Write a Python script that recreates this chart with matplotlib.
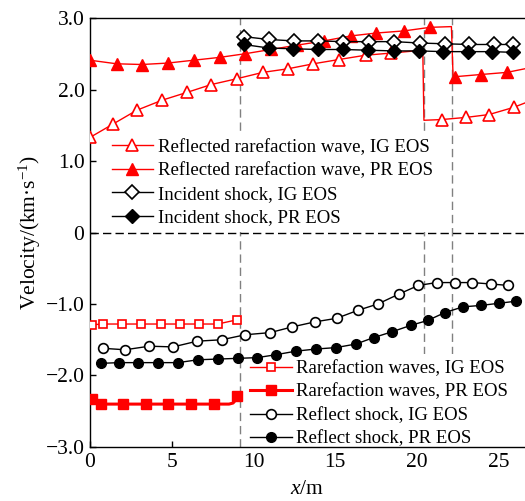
import numpy as np
import matplotlib
matplotlib.use("Agg")
import matplotlib.pyplot as plt

plt.rcParams['font.family'] = ['Liberation Serif', 'DejaVu Serif']
plt.rcParams['mathtext.fontset'] = 'custom'
plt.rcParams['mathtext.rm'] = 'Liberation Serif'
plt.rcParams['mathtext.it'] = 'Liberation Serif:italic'

# reflected rarefaction wave (upper, red triangles)
rr_ig_x = [0, 1.43, 2.86, 4.4, 5.93, 7.42, 8.96, 10.57, 12.1, 13.66, 15.23, 16.85, 18.42,
           20.35, 20.42, 21.5, 23.0, 24.4, 25.9, 26.8]
rr_ig_y = [1.33, 1.52, 1.71, 1.85, 1.96, 2.07, 2.15, 2.24, 2.29, 2.36, 2.42, 2.48, 2.51,
           2.55, 1.57, 1.58, 1.61, 1.65, 1.75, 1.83]
rr_ig_mk = [0, 1, 2, 3, 4, 5, 6, 7, 8, 9, 10, 11, 12, 15, 16, 17, 18]

rr_pr_x = [0, 1.63, 3.17, 4.75, 6.34, 7.94, 9.47, 11.05, 12.65, 14.3, 15.95, 17.5, 19.2, 20.8,
           22.1, 22.2, 22.35, 23.9, 25.5, 26.8]
rr_pr_y = [2.41, 2.36, 2.35, 2.37, 2.41, 2.45, 2.50, 2.56, 2.62, 2.68, 2.75, 2.79, 2.82, 2.87,
           2.88, 2.20, 2.18, 2.21, 2.24, 2.30]
rr_pr_mk = [0, 1, 2, 3, 4, 5, 6, 7, 8, 9, 10, 11, 12, 13, 16, 17, 18]

# incident shock (diamonds)
is_ig_x = [9.4, 10.92, 12.46, 13.95, 15.5, 17.06, 18.6, 20.2, 21.7, 23.2, 24.7, 25.85]
is_ig_y = [2.74, 2.70, 2.68, 2.68, 2.67, 2.67, 2.67, 2.65, 2.64, 2.63, 2.63, 2.63]
is_pr_x = [9.4, 10.94, 12.43, 13.94, 15.5, 17.0, 18.57, 20.14, 21.6, 23.1, 24.6, 25.85]
is_pr_y = [2.63, 2.58, 2.57, 2.56, 2.56, 2.55, 2.54, 2.54, 2.53, 2.53, 2.53, 2.52]

# rarefaction waves (squares)
rw_ig_x = [0.1, 0.8, 1.96, 3.14, 4.32, 5.49, 6.66, 7.82, 9.0]
rw_ig_y = [-1.29, -1.28, -1.28, -1.28, -1.28, -1.28, -1.28, -1.28, -1.22]
rw_pr_x = [0.14, 0.67, 2.04, 3.44, 4.8, 6.2, 7.6, 8.5, 8.75, 8.88, 8.97]
rw_pr_y = [-2.33, -2.40, -2.40, -2.40, -2.40, -2.40, -2.40, -2.40, -2.385, -2.35, -2.28]
rw_pr_mk = [0, 1, 2, 3, 4, 5, 6, 10]

# reflect shock (circles)
rs_ig_x = [0.8, 2.15, 3.63, 5.08, 6.55, 8.06, 9.5, 11.02, 12.37, 13.75, 15.08, 16.36, 17.6,
           18.9, 20.08, 21.2, 22.3, 23.37, 24.5, 25.58]
rs_ig_y = [-1.62, -1.64, -1.59, -1.60, -1.52, -1.50, -1.43, -1.40, -1.32, -1.25, -1.20, -1.09,
           -1.00, -0.86, -0.74, -0.70, -0.70, -0.70, -0.72, -0.74]
rs_pr_x = [0.67, 1.78, 2.93, 4.15, 5.38, 6.6, 7.83, 9.06, 10.23, 11.35, 12.58, 13.8, 15.03,
           16.26, 17.34, 18.45, 19.6, 20.65, 21.7, 22.8, 23.9, 25.0, 26.07]
rs_pr_y = [-1.83, -1.82, -1.82, -1.82, -1.82, -1.78, -1.77, -1.76, -1.75, -1.71, -1.66, -1.63,
           -1.61, -1.56, -1.47, -1.39, -1.30, -1.23, -1.12, -1.04, -1.02, -0.99, -0.96]

vlines_x = [9.15, 20.4, 22.15]

fig = plt.figure(figsize=(5.25, 5.01), dpi=100)
ax = fig.add_axes([0.1714, 0.1078, 0.8286, 0.8562])

red = '#ff0000'
ms = 8.5

# guide lines
for xv in vlines_x:
    ax.axvline(xv, color='#808080', lw=1.0, ls=(0, (6, 3.5)), zorder=1)
ax.axhline(0, color='black', lw=1.0, ls=(0, (6, 3)), zorder=1)

h1, = ax.plot(rr_ig_x, rr_ig_y, color=red, lw=1.0, marker='^', ms=ms, mfc='white', mec=red,
              mew=1.2, markevery=rr_ig_mk, label='Reflected rarefaction wave, IG EOS', zorder=3)
h2, = ax.plot(rr_pr_x, rr_pr_y, color=red, lw=1.0, marker='^', ms=ms, mfc=red, mec=red,
              markevery=rr_pr_mk, label='Reflected rarefaction wave, PR EOS', zorder=3)
h3, = ax.plot(is_ig_x, is_ig_y, color='black', lw=1.0, marker='D', ms=7, mfc='white', mec='black',
              mew=1.2, label='Incident shock, IG EOS', zorder=4)
h4, = ax.plot(is_pr_x, is_pr_y, color='black', lw=1.0, marker='D', ms=7, mfc='black', mec='black',
              label='Incident shock, PR EOS', zorder=4)

h5, = ax.plot(rw_ig_x, rw_ig_y, color=red, lw=1.0, marker='s', ms=6, mfc='white', mec=red,
              mew=1.2, label='Rarefaction waves, IG EOS', zorder=3)
h6, = ax.plot(rw_pr_x, rw_pr_y, color=red, lw=2.2, marker='s', ms=6.5, mfc=red, mec=red,
              markevery=rw_pr_mk, label='Rarefaction waves, PR EOS', zorder=3)
h7, = ax.plot(rs_ig_x, rs_ig_y, color='black', lw=1.0, marker='o', ms=7, mfc='white', mec='black',
              mew=1.2, label='Reflect shock, IG EOS', zorder=3)
h8, = ax.plot(rs_pr_x, rs_pr_y, color='black', lw=1.0, marker='o', ms=7, mfc='black', mec='black',
              label='Reflect shock, PR EOS', zorder=3)

ax.set_xlim(0, 26.6)
ax.set_ylim(-3.0, 3.0)
ax.set_xticks([0, 5, 10, 15, 20, 25])
ax.set_yticks([-3, -2, -1, 0, 1, 2, 3])
ax.set_yticklabels(['\u22123.0', '\u22122.0', '\u22121.0', '0', '1.0', '2.0', '3.0'])
ax.tick_params(direction='in', length=4, width=1, labelsize=15.5, pad=4)
ax.spines['right'].set_visible(False)
for s in ['left', 'bottom', 'top']:
    ax.spines[s].set_linewidth(1.0)

ax.set_xlabel('$x$/m', fontsize=15.5, labelpad=6)
ax.set_ylabel('Velocity/(km\u00b7s$^{-1}$)', fontsize=15.5, labelpad=2)

leg_kw = dict(fontsize=13.5, frameon=True, framealpha=1, facecolor='white', edgecolor='none',
              fancybox=False, handlelength=2.2, handletextpad=0.25, labelspacing=0.34,
              borderpad=0.3, borderaxespad=0, loc='upper left')
leg1 = ax.legend(handles=[h1, h2, h3, h4], bbox_to_anchor=(0.037, 0.732), **leg_kw)
leg1.set_zorder(2)
ax.add_artist(leg1)
leg2 = ax.legend(handles=[h5, h6, h7, h8], bbox_to_anchor=(0.356, 0.216), **leg_kw)
leg2.set_zorder(2)

fig.savefig('out.png', dpi=100)
